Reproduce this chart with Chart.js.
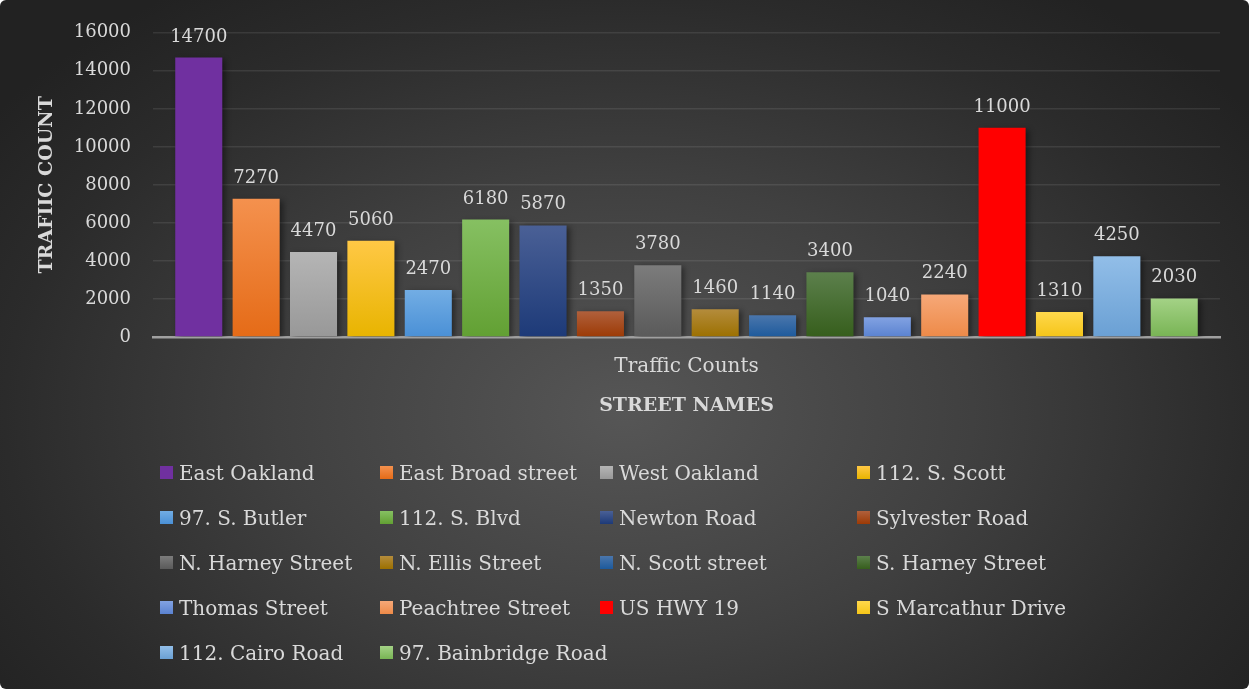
<!DOCTYPE html>
<html>
<head>
<meta charset="utf-8">
<script src="https://cdn.jsdelivr.net/npm/chart.js@4.4.1/dist/chart.umd.min.js"></script>
<style>
body{margin:0;background:#fff;}
#wrap{position:relative;width:1249px;height:689px;border-radius:6px;overflow:hidden;
  background:radial-gradient(ellipse 62% 75% at 50% 60%, #565656 0%, #404040 45%, #2b2b2b 80%, #222 100%);}
#legend{position:absolute;left:160px;top:450px;display:grid;grid-template-columns:220px 220px 257px 260px;grid-auto-rows:45px;
  font-family:'DejaVu Serif';font-size:20px;color:#d9d9d9;}
.item{display:flex;align-items:center;white-space:nowrap;}
.box{width:13px;height:13px;margin-right:6px;flex:none;}
</style>
</head>
<body>
<div id="wrap">
  <canvas id="myChart" width="1249" height="689"></canvas>
  <div id="legend"></div>
</div>
<script>
const categories=['Traffic Counts'];
const streets=['East Oakland','East Broad street','West Oakland','112. S. Scott','97. S. Butler','112. S. Blvd',
  'Newton Road','Sylvester Road','N. Harney Street','N. Ellis Street','N. Scott street','S. Harney Street',
  'Thomas Street','Peachtree Street','US HWY 19','S Marcathur Drive','112. Cairo Road','97. Bainbridge Road'];
const counts=[14700,7270,4470,5060,2470,6180,5870,1350,3780,1460,1140,3400,1040,2240,11000,1310,4250,2030];
const yTicks=[0,2000,4000,6000,8000,10000,12000,14000,16000];
// top / bottom colour of each bar's gradient
const topColors=['#7030a0','#f4914e','#b5b5b5','#ffc845','#72ade4','#86c062','#4a6096','#b0603c','#7c7c7c','#b48c3c','#4a76ac','#5c804c','#82a2e2','#f6a878','#ff0000','#ffd84c','#92bee8','#a4d286'];
const bottomColors=['#7030a0','#e56b17','#989898','#e8b400','#4a90d6','#62a033','#1d3a78','#9c3a05','#5a5a5a','#9c7000','#1d5a9c','#365e1c','#5a82d0','#ee8a48','#ff0000','#f5c518','#6aa0d4','#78b454'];

const FONT="'DejaVu Serif'";
const TXT='#d9d9d9';

const barFill=c=>{
  const i=c.datasetIndex;
  const chart=c.chart;
  const y=chart.scales && chart.scales.y;
  if(!y||!chart.chartArea||topColors[i]===bottomColors[i]) return topColors[i];
  const v=counts[i];
  const g=chart.ctx.createLinearGradient(0,y.getPixelForValue(v),0,y.getPixelForValue(0));
  g.addColorStop(0,topColors[i]);
  g.addColorStop(1,bottomColors[i]);
  return g;
};

const barShadow={
  id:'barShadow',
  beforeDatasetsDraw(chart){
    const ctx=chart.ctx;
    ctx.save();
    ctx.shadowColor='rgba(0,0,0,0.45)';
    ctx.shadowBlur=6;
    ctx.shadowOffsetX=3;
    ctx.shadowOffsetY=2;
  },
  afterDatasetsDraw(chart){
    chart.ctx.restore();
  }
};

const valueLabels={
  id:'valueLabels',
  afterDatasetsDraw(chart){
    const ctx=chart.ctx;
    ctx.save();
    ctx.font='18px '+FONT;
    ctx.fillStyle=TXT;
    ctx.textAlign='center';
    ctx.textBaseline='alphabetic';
    chart.data.datasets.forEach((ds,i)=>{
      const meta=chart.getDatasetMeta(i);
      meta.data.forEach((bar,j)=>{
        ctx.fillText(String(ds.data[j]),bar.x,bar.y-16);
      });
    });
    ctx.restore();
  }
};

new Chart(document.getElementById('myChart').getContext('2d'),{
  type:'bar',
  data:{
    labels:categories,
    datasets:streets.map((s,i)=>({
      label:s,
      data:[counts[i]],
      backgroundColor:barFill,
      borderWidth:0,
      categoryPercentage:0.968,
      barPercentage:0.82
    }))
  },
  options:{
    responsive:false,
    animation:false,
    layout:{padding:{left:30,right:29,top:29,bottom:269}},
    plugins:{legend:{display:false},tooltip:{enabled:false}},
    scales:{
      x:{
        grid:{display:false,drawTicks:false},
        border:{display:true,color:'#a0a0a0',width:2.5},
        ticks:{color:TXT,font:{family:FONT,size:20,lineHeight:1},padding:20},
        title:{display:true,text:'STREET NAMES',color:TXT,font:{family:FONT,size:19,weight:'bold',lineHeight:1},padding:{top:0,bottom:4}}
      },
      y:{
        min:0,max:16000,
        afterBuildTicks:s=>{s.ticks=yTicks.map(v=>({value:v}));},
        afterFit:s=>{s.width=123;},
        grid:{color:'rgba(255,255,255,0.09)',lineWidth:1.5,drawTicks:false},
        border:{display:false},
        ticks:{color:TXT,font:{family:FONT,size:18},padding:22,callback:v=>String(v)},
        title:{display:true,text:'TRAFIIC COUNT',color:TXT,font:{family:FONT,size:19,weight:'bold'},padding:{top:6,bottom:0}}
      }
    }
  },
  plugins:[barShadow,valueLabels]
});

// legend built from the same arrays
const leg=document.getElementById('legend');
streets.forEach((s,i)=>{
  const it=document.createElement('div');
  it.className='item';
  const b=document.createElement('span');
  b.className='box';
  b.style.background='linear-gradient('+topColors[i]+','+bottomColors[i]+')';
  const t=document.createElement('span');
  t.textContent=s;
  it.appendChild(b);it.appendChild(t);
  leg.appendChild(it);
});
</script>
</body>
</html>
